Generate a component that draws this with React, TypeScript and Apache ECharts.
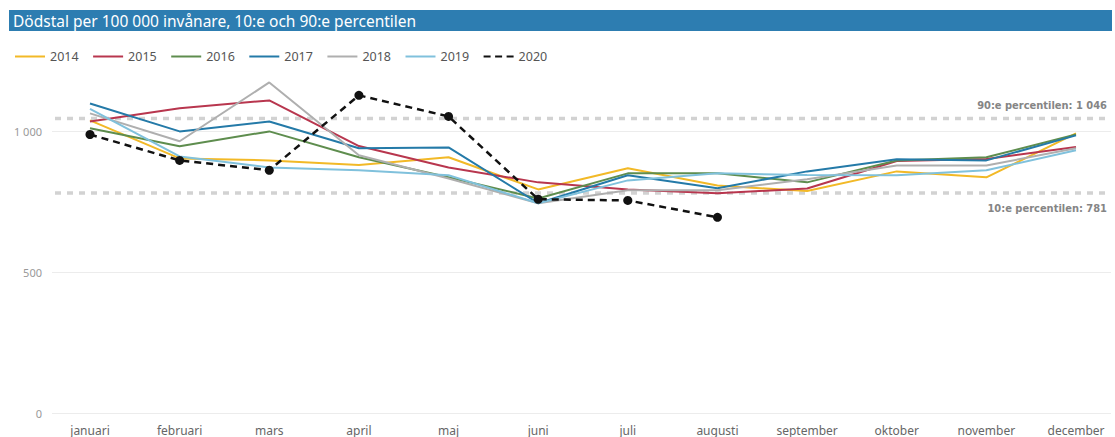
import React, { useEffect, useRef } from "react";
import * as echarts from "echarts";

const titleText = "Dödstal per 100 000 invånare, 10:e och 90:e percentilen";
const months = ["januari", "februari", "mars", "april", "maj", "juni", "juli", "augusti", "september", "oktober", "november", "december"];
const years = ["2014", "2015", "2016", "2017", "2018", "2019", "2020"];
const v2014 = [1039, 904, 897, 881, 908, 794, 869, 808, 788, 858, 837, 993];
const v2015 = [1035, 1082, 1110, 948, 872, 819, 794, 780, 797, 895, 902, 945];
const v2016 = [1011, 947, 1000, 908, 837, 762, 851, 851, 819, 897, 908, 989];
const v2017 = [1099, 1000, 1035, 940, 943, 745, 844, 798, 858, 901, 897, 986];
const v2018 = [1064, 965, 1174, 915, 833, 745, 791, 791, 830, 879, 879, 940];
const v2019 = [1080, 911, 872, 862, 844, 745, 826, 851, 845, 844, 862, 933];
const v2020 = [989, 897, 862, 1128, 1053, 759, 755, 695, null, null, null, null];
const yTicks = [0, 500, 1000];
const p90 = 1046;
const p10 = 781;
const p90Label = "90:e percentilen: 1 046";
const p10Label = "10:e percentilen: 781";

const colors = ["#F2B927", "#B8364E", "#5E8D4E", "#247AA8", "#AFAFAF", "#80C1DC", "#111111"];
const FONT = "'Noto Sans', 'Open Sans', sans-serif";
const SOLID_ICON = "path://M0,0h30v2h-30z";
const DASH_ICON = "path://M0,0h7v2h-7z M11.5,0h7v2h-7z M23,0h7v2h-7z";

const fmt = (v: number) => String(v).replace(/\B(?=(\d{3})+(?!\d))/g, " ");

export default function App() {
  const ref = useRef<HTMLDivElement>(null);
  useEffect(() => {
    const chart = echarts.init(ref.current!, null, { renderer: "svg" });
    const data = [v2014, v2015, v2016, v2017, v2018, v2019];
    const series: any[] = data.map((d, i) => ({
      name: years[i],
      type: "line",
      data: d,
      symbol: "none",
      lineStyle: { color: colors[i], width: 2 },
      itemStyle: { color: colors[i] },
      z: 3,
    }));
    series.push({
      name: "2020",
      type: "line",
      data: v2020,
      symbol: "none",
      lineStyle: { color: colors[6], width: 2.5, type: [7, 5] },
      itemStyle: { color: colors[6] },
      z: 5,
    });
    series.push({
      name: "2020 punkter",
      type: "scatter",
      data: v2020,
      symbol: "circle",
      symbolSize: 9,
      itemStyle: { color: colors[6], opacity: 1 },
      z: 6,
    });
    chart.setOption({
      animation: false,
      textStyle: { fontFamily: FONT },
      grid: { left: 90, right: 39, top: 61, bottom: 24 },
      legend: {
        data: years.map((y, i) => ({ name: y, icon: i === 6 ? DASH_ICON : SOLID_ICON })),
        left: 10,
        top: 45,
        itemWidth: 30,
        itemHeight: 2,
        itemGap: 14.5,
        textStyle: { color: "#555", fontSize: 12.5, fontFamily: FONT },
      },
      xAxis: {
        type: "category",
        data: months,
        boundaryGap: false,
        axisLine: { show: false },
        axisTick: { show: false },
        axisLabel: { color: "#666", fontSize: 12, margin: 11, fontFamily: FONT },
      },
      yAxis: {
        type: "value",
        min: 0,
        max: 1250,
        interval: 500,
        splitLine: { show: false },
        axisLine: { show: false },
        axisTick: { show: false },
        axisLabel: { color: "#999", fontSize: 11, margin: 48, showMaxLabel: false, formatter: (v: number) => fmt(v), fontFamily: FONT },
      },
      series,
    });
    const yPx = (v: number) => chart.convertToPixel({ yAxisIndex: 0 }, v) as number;
    const x0 = 52;
    const x1 = 1111;
    const graphic: any[] = [
      { type: "rect", shape: { x: 9, y: 10, width: 1103, height: 21 }, style: { fill: "#2D7DB1" }, z: 0 },
      { type: "text", x: 13, y: 20.5, style: { text: titleText, fill: "#ffffff", fontSize: 15.5, fontFamily: FONT, verticalAlign: "middle" }, z: 1 },
    ];
    yTicks.forEach((t) => {
      const y = Math.round(yPx(t)) + 0.5;
      graphic.push({ type: "line", shape: { x1: x0, y1: y, x2: x1, y2: y }, style: { stroke: "#ececec", lineWidth: 1 }, z: 0 });
    });
    [p90, p10].forEach((p) => {
      const y = yPx(p);
      graphic.push({ type: "line", shape: { x1: 55, y1: y, x2: x1, y2: y }, style: { stroke: "#d2d2d2", lineWidth: 3.5, lineDash: [6, 6] }, z: 0 });
    });
    const pFont = "'DejaVu Sans Condensed', 'DejaVu Sans', sans-serif";
    graphic.push({ type: "text", x: 1107, y: yPx(p90) - 13, style: { text: p90Label, fill: "#858585", fontSize: 11, fontWeight: "bold", fontFamily: pFont, align: "right", verticalAlign: "middle" }, z: 1 });
    graphic.push({ type: "text", x: 1107, y: yPx(p10) + 15, style: { text: p10Label, fill: "#858585", fontSize: 11, fontWeight: "bold", fontFamily: pFont, align: "right", verticalAlign: "middle" }, z: 1 });
    chart.setOption({ graphic });
    return () => chart.dispose();
  }, []);
  return <div ref={ref} style={{ position: "fixed", left: 0, top: 0, width: 1115, height: 437, background: "#fff" }} />;
}
